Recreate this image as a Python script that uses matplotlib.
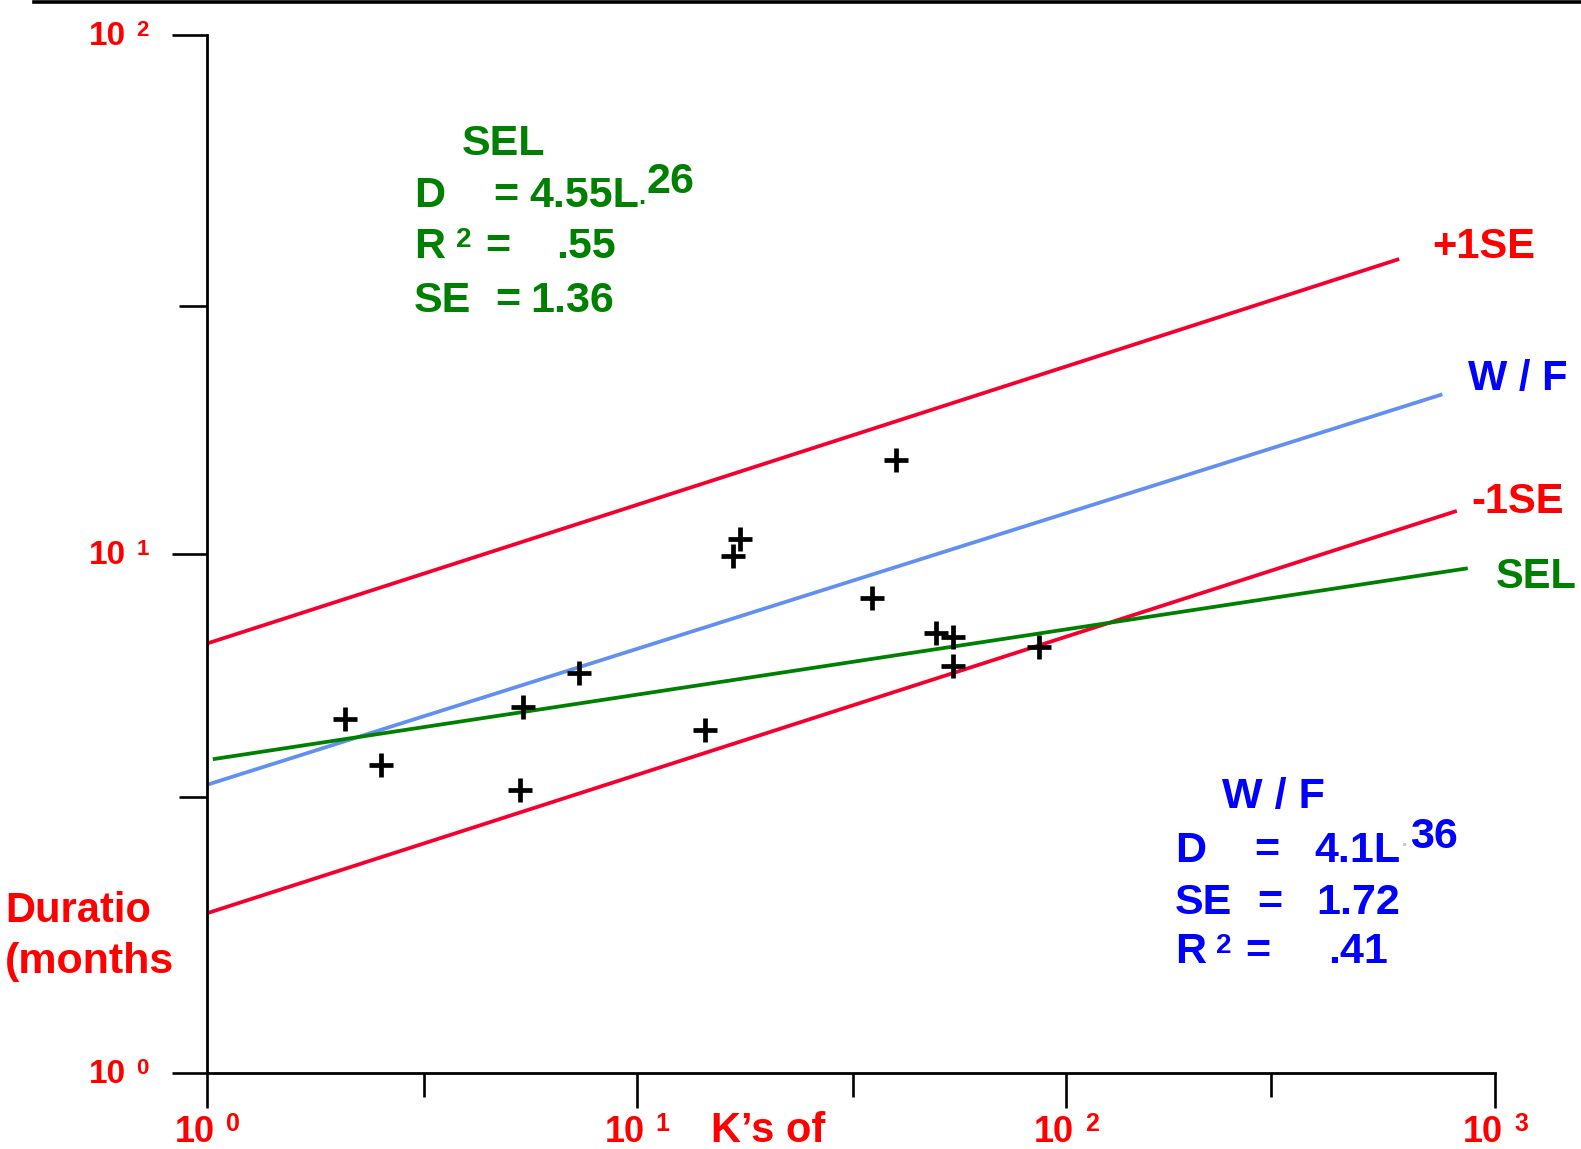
import matplotlib
matplotlib.use('Agg')
from matplotlib import pyplot as plt
from matplotlib.ticker import FixedLocator, NullFormatter
from matplotlib.lines import Line2D

plt.rcParams['font.family'] = ['Liberation Sans', 'DejaVu Sans']

# observed projects: size (K's of) vs duration (months)
ks = [2.09, 2.54, 5.34, 5.43, 7.36, 14.4, 16.8, 17.4, 35.3, 40.2, 49.8, 54.5, 54.5, 86.6]
months = [4.81, 3.92, 3.51, 5.06, 5.90, 4.58, 9.90, 10.7, 8.23, 15.2, 7.03, 6.92, 6.08, 6.60]

# fitted lines, end points
fit_names = ['+1SE', 'W / F', '-1SE', 'SEL']
fit_x = [[1, 598], [1, 754], [1, 815], [1.03, 864]]
fit_y = [[6.72, 37.0], [3.59, 20.3], [2.03, 12.1], [4.02, 9.38]]
fit_colors = ['#f5002e', '#6190f0', '#f5002e', '#008000']
name_colors = ['#ff0000', '#0000ff', '#ff0000', '#008000']

x_ticks = [1, 10, 100, 1000]
x_exp = ['0', '1', '2', '3']
x_minor = [3.2, 32, 300]
y_ticks = [1, 10, 100]
y_exp = ['0', '1', '2']
y_minor = [3.4, 30]

RED = '#ff0000'
GREEN = '#008000'
BLUE = '#0000ff'

W, H = 1581, 1149
fig = plt.figure(figsize=(W / 100, H / 100), dpi=100)
ax = fig.add_axes([207.3 / W, 1 - 1072.7 / H, (1495 - 207.3) / W, (1072.7 - 35) / H])


def put(x, y, s, color, size, **kw):
    fig.text(x / W, 1 - y / H, s, color=color, fontsize=size,
             fontweight='bold', va='baseline', **kw)


for xs, ys, c in zip(fit_x, fit_y, fit_colors):
    ax.plot(xs, ys, color=c, lw=2.7, solid_capstyle='butt')
ax.plot(ks, months, '+', color='black', ms=17, mew=3.4, clip_on=False)

ax.set_xscale('log')
ax.set_yscale('log')
ax.set_xlim(1, 1000)
ax.set_ylim(1, 100)
ax.xaxis.set_major_locator(FixedLocator(x_ticks))
ax.xaxis.set_minor_locator(FixedLocator(x_minor))
ax.yaxis.set_major_locator(FixedLocator(y_ticks))
ax.yaxis.set_minor_locator(FixedLocator(y_minor))
ax.xaxis.set_minor_formatter(NullFormatter())
ax.yaxis.set_minor_formatter(NullFormatter())
ax.tick_params(labelbottom=False, labelleft=False)
ax.tick_params(axis='x', which='major', direction='out', length=25, width=1.9)
ax.tick_params(axis='x', which='minor', direction='out', length=17, width=1.9)
ax.tick_params(axis='y', which='major', direction='out', length=25, width=1.9)
ax.tick_params(axis='y', which='minor', direction='out', length=20, width=1.9)
for s in ['top', 'right']:
    ax.spines[s].set_visible(False)
for s in ['left', 'bottom']:
    ax.spines[s].set_linewidth(2.0)

# tick labels "10" with a small exponent
for t, e in zip(x_ticks, x_exp):
    ax.annotate('10', xy=(t, 0), xycoords=('data', 'axes fraction'), xytext=(8, -69),
                textcoords='offset pixels', ha='right', va='baseline', color=RED,
                fontsize=26, fontweight='bold', annotation_clip=False)
    ax.annotate(e, xy=(t, 0), xycoords=('data', 'axes fraction'), xytext=(19, -58),
                textcoords='offset pixels', ha='left', va='baseline', color=RED,
                fontsize=18, fontweight='bold', annotation_clip=False)
for t, e in zip(y_ticks, y_exp):
    ax.annotate('10', xy=(0, t), xycoords=('axes fraction', 'data'), xytext=(-81, -10),
                textcoords='offset pixels', ha='right', va='baseline', color=RED,
                fontsize=24, fontweight='bold', annotation_clip=False)
    ax.annotate(e, xy=(0, t), xycoords=('axes fraction', 'data'), xytext=(-71, -1),
                textcoords='offset pixels', ha='left', va='baseline', color=RED,
                fontsize=16, fontweight='bold', annotation_clip=False)

# axis titles
put(5, 921.7, 'Duratio', RED, 30)
put(5, 973, '(months', RED, 31)
put(711, 1141.7, 'K\u2019s of', RED, 30)

# line names at the right
name_pos = [(1432, 258.3), (1468, 390), (1471, 513.3), (1496, 588.3)]
for (x, y), n, c in zip(name_pos, fit_names, name_colors):
    put(x, y, n, c, 30)

# SEL equation block
put(462, 155, 'SEL', GREEN, 31)
put(414, 206.7, 'D', GREEN, 31)
put(493, 206.7, '=', GREEN, 31)
put(529, 206.7, '4.55L', GREEN, 31)
put(638, 204, '.', GREEN, 18)
put(647, 193.3, '26', GREEN, 31)
put(414, 258.3, 'R', GREEN, 31)
put(456, 246.7, '2', GREEN, 20)
put(485, 258.3, '=', GREEN, 31)
put(556, 258.3, '.55', GREEN, 31)
put(414, 311.7, 'SE', GREEN, 31)
put(495, 311.7, '=', GREEN, 31)
put(530, 311.7, '1.36', GREEN, 31)

# W/F equation block
put(1222, 808.3, 'W / F', BLUE, 31)
put(1175, 861.7, 'D', BLUE, 31)
put(1254, 861.7, '=', BLUE, 31)
put(1314, 861.7, '4.1L', BLUE, 31)
put(1402, 846, '.', '#c0c0c0', 14)
put(1410, 848.3, '36', BLUE, 31)
put(1175, 914, 'SE', BLUE, 31)
put(1257, 914, '=', BLUE, 31)
put(1316, 914, '1.72', BLUE, 31)
put(1175, 963.3, 'R', BLUE, 31)
put(1216, 953.3, '2', BLUE, 20)
put(1245, 963.3, '=', BLUE, 31)
put(1328, 963.3, '.41', BLUE, 31)

# rule across the top of the slide
fig.add_artist(Line2D([34 / W, 1], [1 - 1.5 / H, 1 - 1.5 / H], transform=fig.transFigure,
                      color='black', lw=2.6))

fig.savefig('out.png', dpi=100)
